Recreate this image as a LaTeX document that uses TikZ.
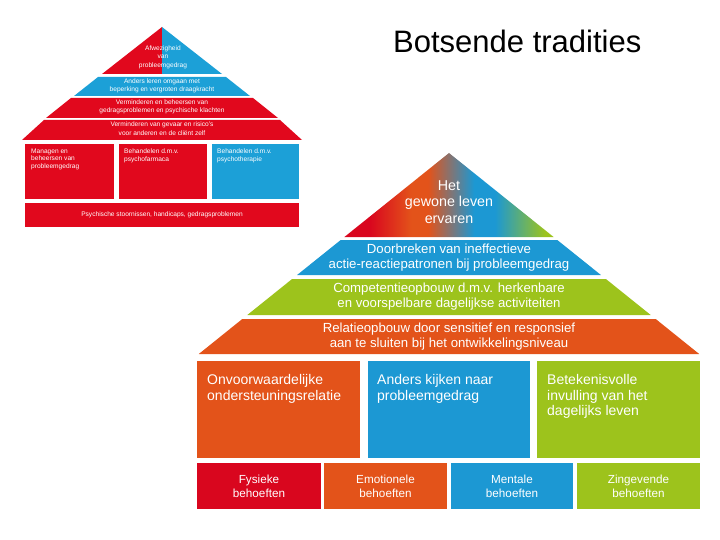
\documentclass[tikz,border=0pt]{standalone}
\usepackage{fontspec}
\setmainfont{Liberation Sans}
\definecolor{cred}{HTML}{D9061E}
\definecolor{corange}{HTML}{E3531A}
\definecolor{cblue}{HTML}{1C98D3}
\definecolor{cgreen}{HTML}{9DC31C}
\definecolor{sred}{HTML}{E1081D}
\definecolor{sblue}{HTML}{1CA0D7}
\pgfdeclarehorizontalshading{topgrad}{100bp}{color(0bp)=(cred); color(31bp)=(cred); color(41bp)=(corange); color(45bp)=(corange); color(56bp)=(cblue); color(61bp)=(cblue); color(73bp)=(cgreen); color(100bp)=(cgreen)}
\tikzset{
  smalltxt/.style={text=white, align=center, inner sep=0pt, font=\fontsize{6.6}{8.3}\selectfont},
  smallbox/.style={text=white, align=left, inner sep=0pt, anchor=north west, font=\fontsize{6.6}{7.6}\selectfont},
  bandtxt/.style={text=white, align=center, inner sep=0pt, font=\fontsize{13.2}{15}\selectfont},
  bigbox/.style={text=white, align=left, inner sep=0pt, anchor=north west, font=\fontsize{14}{15.5}\selectfont},
  needtxt/.style={text=white, align=center, inner sep=0pt, font=\fontsize{11.7}{13.4}\selectfont}
}
\begin{document}
\begin{tikzpicture}[x=1pt,y=-1pt]
\useasboundingbox (0,0) rectangle (720,540);
% title
\node[anchor=base west, inner sep=0pt, font=\fontsize{31}{35}\selectfont] (title) at (393,53) {Botsende tradities};

% ---------- small pyramid ----------
\fill[sred] (162,27) -- (102,74) -- (162,74) -- cycle;
\fill[sblue] (162,27) -- (222,74) -- (162,74) -- cycle;
\fill[sblue] (98,77) -- (226,77) -- (250,96) -- (74,96) -- cycle;
\fill[sred] (71,98) -- (253,98) -- (278,118) -- (46,118) -- cycle;
\fill[sred] (44,120) -- (280,120) -- (302,140) -- (22,140) -- cycle;
\fill[sred] (25,144) rectangle (114,199);
\fill[sred] (119,144) rectangle (207,199);
\fill[sblue] (212,144) rectangle (299,199);
\fill[sred] (25,203) rectangle (299,227);

\node[smalltxt] (s1) at (163,57) {Afwezigheid\\van\\probleemgedrag};
\node[smalltxt] (s2) at (162,85.5) {Anders leren omgaan met\\beperking en vergroten draagkracht};
\node[smalltxt] (s3) at (162,107) {Verminderen en beheersen van\\gedragsproblemen en psychische klachten};
\node[smalltxt] (s4) at (162,128.5) {Verminderen van gevaar en risico's\\voor anderen en de cliënt zelf};
\node[smallbox] (sb1) at (31,148.5) {Managen en\\beheersen van\\probleemgedrag};
\node[smallbox] (sb2) at (124,148.5) {Behandelen d.m.v.\\psychofarmaca};
\node[smallbox] (sb3) at (217,148.5) {Behandelen d.m.v.\\psychotherapie};
\node[smalltxt] (sbar) at (162,215) {Psychische stoornissen, handicaps, gedragsproblemen};

% ---------- big pyramid ----------
\shade[shading=topgrad] (449,153) -- (553.6,237) -- (344.4,237) -- cycle;
\fill[cblue] (340.7,240) -- (557.3,240) -- (600.9,275) -- (297.1,275) -- cycle;
\fill[cgreen] (292.1,279) -- (605.9,279) -- (650.7,315) -- (247.3,315) -- cycle;
\fill[corange] (242.3,319) -- (655.7,319) -- (699.2,354) -- (198.8,354) -- cycle;

\node[text=white, align=center, inner sep=0pt, font=\fontsize{14.3}{16.5}\selectfont] (b1) at (449,202) {Het\\gewone leven\\ervaren};
\node[bandtxt] (b2) at (449,257.5) {Doorbreken van ineffectieve\\actie-reactiepatronen bij probleemgedrag};
\node[bandtxt] (b3) at (449,297) {Competentieopbouw d.m.v. herkenbare\\en voorspelbare dagelijkse activiteiten};
\node[bandtxt] (b4) at (449,336.5) {Relatieopbouw door sensitief en responsief\\aan te sluiten bij het ontwikkelingsniveau};

\fill[corange] (197,361) rectangle (360,458);
\fill[cblue] (368,361) rectangle (530,458);
\fill[cgreen] (537,361) rectangle (700,458);
\node[bigbox] (k1) at (207,374.5) {Onvoorwaardelijke\\ondersteuningsrelatie};
\node[bigbox] (k2) at (377,374.5) {Anders kijken naar\\probleemgedrag};
\node[bigbox] (k3) at (547,374.5) {Betekenisvolle\\invulling van het\\dagelijks leven};

\fill[cred] (197,463) rectangle (321,509);
\fill[corange] (324,463) rectangle (447,509);
\fill[cblue] (451,463) rectangle (573,509);
\fill[cgreen] (577,463) rectangle (700,509);
\node[needtxt] (n1) at (259,486.5) {Fysieke\\behoeften};
\node[needtxt] (n2) at (385.5,486.5) {Emotionele\\behoeften};
\node[needtxt] (n3) at (512,486.5) {Mentale\\behoeften};
\node[needtxt] (n4) at (638.5,486.5) {Zingevende\\behoeften};
\end{tikzpicture}
\end{document}
